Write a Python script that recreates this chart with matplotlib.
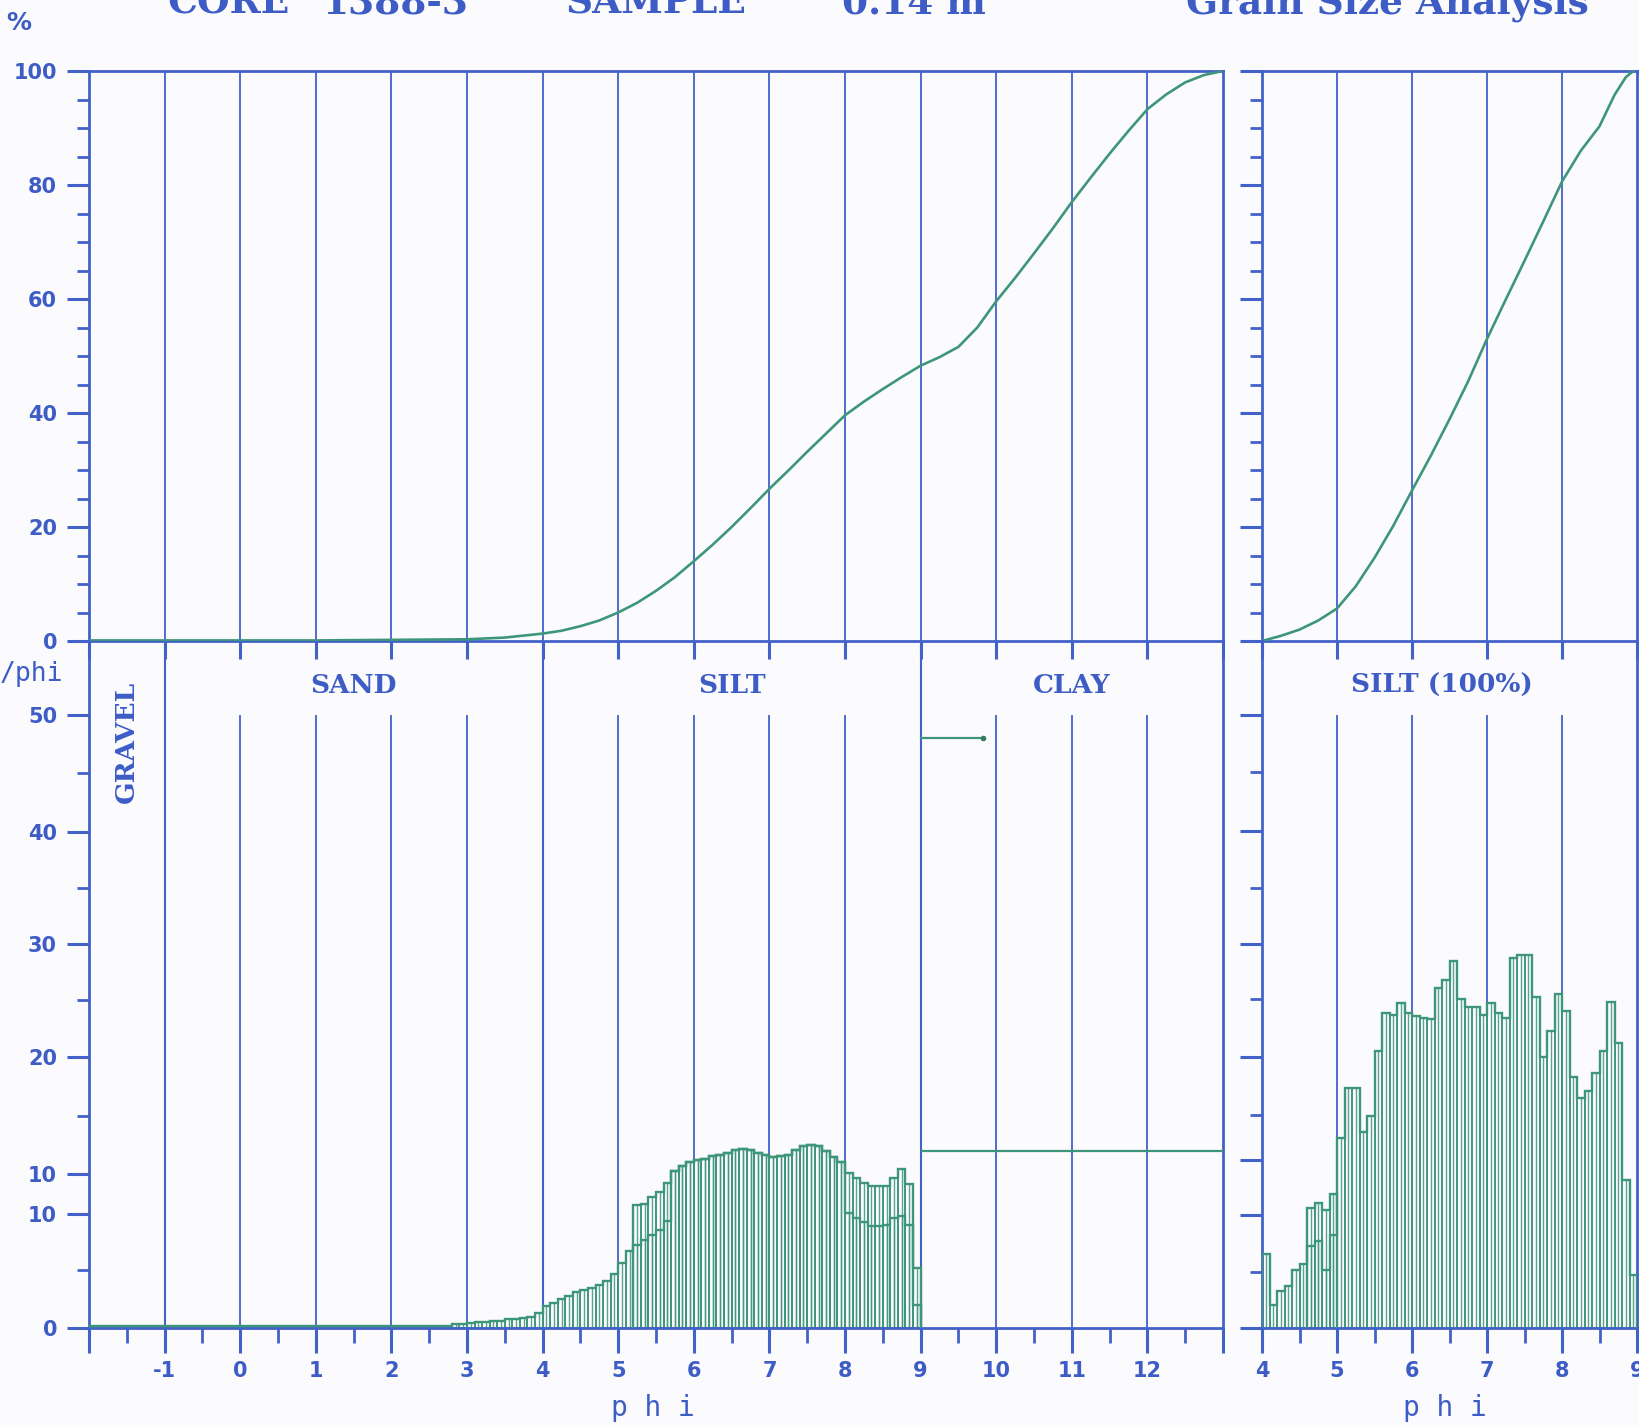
import matplotlib
matplotlib.use('Agg')
import matplotlib.pyplot as plt
import numpy as np
from matplotlib.ticker import FixedLocator, FixedFormatter, MultipleLocator

W, H = 1639, 1427
BLUE = '#4262c9'
GREEN = '#3e967a'
TXT = '#3d5cc6'
BG = '#fbfbfd'

plt.rcParams['font.family'] = ['DejaVu Sans']
plt.rcParams['font.weight'] = 'bold'

# ---------------- data ----------------
# cumulative curve, whole sample (%)
cum_phi = [-2, -1, 0, 1, 2, 3, 3.5, 4, 4.25, 4.5, 4.75, 5, 5.25, 5.5, 5.75, 6, 6.25, 6.5,
           6.75, 7, 7.25, 7.5, 7.75, 8, 8.25, 8.5, 8.75, 9, 9.25, 9.5, 9.75, 10, 10.25,
           10.5, 10.75, 11, 11.25, 11.5, 11.75, 12, 12.25, 12.5, 12.75, 13]
cum_pct = [0.1, 0.1, 0.1, 0.1, 0.2, 0.3, 0.6, 1.3, 1.8, 2.6, 3.6, 5.0, 6.7, 8.8, 11.2, 14.0,
           16.9, 20.0, 23.3, 26.7, 29.9, 33.2, 36.4, 39.6, 42.0, 44.2, 46.3, 48.3, 49.8,
           51.6, 55.0, 59.6, 63.7, 68.0, 72.4, 77.0, 81.3, 85.5, 89.5, 93.3, 95.9, 98.0,
           99.3, 100.0]

# cumulative curve, silt fraction only (%)
silt_cum_phi = [4, 4.25, 4.5, 4.75, 5, 5.25, 5.5, 5.75, 6, 6.25, 6.5, 6.75, 7, 7.25, 7.5,
                7.75, 8, 8.25, 8.5, 8.7, 8.85, 8.95]
silt_cum_pct = [0, 0.9, 2.0, 3.6, 5.7, 9.6, 14.6, 20.2, 26.4, 32.5, 38.9, 45.6, 53.0, 59.9,
                66.7, 73.6, 80.6, 86.0, 90.3, 95.8, 98.9, 100]

# frequency histogram, whole sample (%/phi), 0.1 phi bins from -2.0
hist_start = -2.0
hist_lower = [
    0.2, 0.2, 0.2, 0.2, 0.2, 0.2, 0.2, 0.2, 0.2, 0.2,
    0.2, 0.2, 0.2, 0.2, 0.2, 0.2, 0.2, 0.2, 0.2, 0.2,
    0.2, 0.2, 0.2, 0.2, 0.2, 0.2, 0.2, 0.2, 0.2, 0.2,
    0.2, 0.2, 0.2, 0.2, 0.2, 0.2, 0.2, 0.2, 0.2, 0.2,
    0.2, 0.2, 0.2, 0.2, 0.2, 0.2, 0.2, 0.2, 0.3, 0.3,
    0.4, 0.5, 0.5, 0.6, 0.6, 0.7, 0.7, 0.8, 0.9, 1.2,
    1.8, 2.0, 2.4, 2.6, 2.9, 3.1, 3.3, 3.5, 3.8, 4.4,
    5.3, 6.3, 6.8, 7.2, 7.6, 8.0, 8.7, 12.8, 13.2, 13.5,
    13.7, 13.8, 14.0, 14.1, 14.3, 14.5, 14.6, 14.5, 14.3, 14.1,
    13.9, 14.0, 14.1, 14.5, 14.8, 14.9, 14.8, 14.4, 13.9, 13.5,
    9.4, 9.0, 8.6, 8.3, 8.3, 8.4, 9.0, 9.1, 8.4, 1.9]
# second (overprinted) trace, 0.1 phi bins from 5.2
hist_upper_start = 5.2
hist_upper = [
    10.0, 10.1, 10.7, 11.1, 11.8, 12.8, 13.2, 13.5,
    13.7, 13.8, 14.0, 14.1, 14.3, 14.5, 14.6, 14.5, 14.3, 14.1,
    13.9, 14.0, 14.1, 14.5, 14.8, 14.9, 14.8, 14.4, 13.9, 13.5,
    12.6, 12.2, 11.8, 11.6, 11.6, 11.6, 12.2, 13.0, 11.7, 4.9]

# clay fraction (%/phi)
clay_range = [9.0, 13.0]
clay_pct = 14.4
clay_first_range = [9.0, 9.82]
clay_first_pct = 48.1

# silt-only histogram (%/phi), 0.1 phi bins from 4.0
silt_start = 4.0
silt_hist = [
    6.0, 1.9, 3.0, 3.4, 4.75, 5.2, 6.7, 7.1, 4.7, 7.6,
    15.5, 19.6, 19.6, 16.0, 17.3, 22.6, 25.7, 25.5, 26.5, 25.7,
    25.4, 25.3, 25.2, 27.7, 28.4, 29.9, 26.8, 26.2, 26.2, 25.5,
    26.5, 25.7, 25.3, 30.2, 30.4, 30.4, 27.0, 22.1, 24.2, 27.2,
    25.8, 20.5, 18.75, 19.3, 20.8, 22.6, 26.6, 23.2, 12.1, 4.3]
silt_upper_start = 4.6
silt_upper = [9.8, 10.2, 9.6, 10.9]

# text
title_parts = ['CORE', '1388-3', 'SAMPLE', '0.14 m', 'Grain Size Analysis']
top_yticks = [0, 20, 40, 60, 80, 100]
bl_ytick_labels = ['0', '10', '10', '20', '30', '40', '50']
bl_xtick_labels = ['', '-1', '0', '1', '2', '3', '4', '5', '6', '7', '8', '9', '10', '11', '12', '']
br_xtick_labels = ['4', '5', '6', '7', '8', '9']
section_labels = ['GRAVEL', 'SAND', 'SILT', 'CLAY']

# ---------------- layout / style ----------------
fig = plt.figure(figsize=(W / 100, H / 100), dpi=100, facecolor=BG)


def rect(x0, y0, x1, y1):
    return [x0 / W, 1 - y1 / H, (x1 - x0) / W, (y1 - y0) / H]


BL_TOP = 56.0
bl_ytick_pos = [0, 9.3, 12.53, 22.08, 31.28, 40.47, 50.0]
bl_yminor_pos = [4.7, 17.3, 26.7, 35.9, 45.25]
br_ytick_pos = [0, 9.2, 13.7, 22.1, 31.3, 40.5, 50.0]
br_yminor_pos = [4.6, 17.4, 26.8, 35.9, 45.3]

axTL = fig.add_axes(rect(89, 71, 1223, 641))
axBL = fig.add_axes(rect(89, 641, 1223, 1328))
axTR = fig.add_axes(rect(1262, 71, 1637, 641))
axBR = fig.add_axes(rect(1262, 641, 1637, 1328))

for ax in (axTL, axBL, axTR, axBR):
    ax.set_facecolor('none')
    for sp in ax.spines.values():
        sp.set_color(BLUE)
        sp.set_linewidth(2.0)
    ax.tick_params(which='both', colors=BLUE, labelcolor=TXT, labelsize=15)
    ax.tick_params(which='major', direction='out', length=16, width=2.2)
    ax.tick_params(which='minor', direction='out', length=9, width=2.0)

axBL.spines['top'].set_visible(False)
axBR.spines['top'].set_visible(False)

axTL.set_xlim(-2, 13); axTL.set_ylim(0, 100)
axBL.set_xlim(-2, 13); axBL.set_ylim(0, BL_TOP)
axTR.set_xlim(4, 9); axTR.set_ylim(0, 100)
axBR.set_xlim(4, 9); axBR.set_ylim(0, BL_TOP)

# top panels ticks
for ax, xt in ((axTL, range(-2, 14)), (axTR, range(4, 10))):
    ax.xaxis.set_major_locator(FixedLocator(list(xt)))
    ax.tick_params(axis='x', which='major', length=13, labelbottom=False)
    ax.yaxis.set_major_locator(FixedLocator(top_yticks))
    ax.yaxis.set_minor_locator(MultipleLocator(5))
axTL.tick_params(axis='y', pad=7)
axTR.tick_params(axis='y', labelleft=False)

# bottom-left ticks
axBL.yaxis.set_major_locator(FixedLocator(bl_ytick_pos))
axBL.yaxis.set_major_formatter(FixedFormatter(bl_ytick_labels))
axBL.yaxis.set_minor_locator(FixedLocator(bl_yminor_pos))
axBL.xaxis.set_major_locator(FixedLocator(list(range(-2, 14))))
axBL.xaxis.set_major_formatter(FixedFormatter(bl_xtick_labels))
axBL.xaxis.set_minor_locator(MultipleLocator(0.5))
axBL.tick_params(axis='y', pad=7)
axBL.tick_params(axis='x', which='major', length=18, pad=6, labelsize=15)
axBL.tick_params(axis='x', which='minor', length=11)

# bottom-right ticks
axBR.yaxis.set_major_locator(FixedLocator(br_ytick_pos))
axBR.yaxis.set_minor_locator(FixedLocator(br_yminor_pos))
axBR.tick_params(axis='y', labelleft=False)
axBR.xaxis.set_major_locator(FixedLocator(list(range(4, 10))))
axBR.xaxis.set_major_formatter(FixedFormatter(br_xtick_labels))
axBR.xaxis.set_minor_locator(MultipleLocator(0.5))
axBR.tick_params(axis='x', which='major', length=18, pad=6, labelsize=15)
axBR.tick_params(axis='x', which='minor', length=11)

# vertical guide lines
axTL.vlines(list(range(-1, 13)), 0, 100, color=BLUE, lw=1.3, zorder=1)
axTR.vlines([5, 6, 7, 8], 0, 100, color=BLUE, lw=1.3, zorder=1)
axBL.vlines([-1, 4, 9], 0, BL_TOP, color=BLUE, lw=1.5, zorder=1)
axBL.vlines([0, 1, 2, 3, 5, 6, 7, 8, 10, 11, 12], 0, 50, color=BLUE, lw=1.3, zorder=1)
axBR.vlines([5, 6, 7, 8], 0, 50, color=BLUE, lw=1.3, zorder=1)

# ---------------- marks ----------------
axTL.plot(cum_phi, cum_pct, color=GREEN, lw=1.9, zorder=3)
axTR.plot(silt_cum_phi, silt_cum_pct, color=GREEN, lw=1.9, zorder=3)


def draw_hist(ax, start, vals, width=0.1):
    n = len(vals)
    starts = np.round(start + width * np.arange(n), 3)
    edges = np.append(starts, starts[-1] + width)
    ax.bar(starts, vals, width=width, align='edge', facecolor='none',
           edgecolor=GREEN, linewidth=1.2, zorder=2)
    ax.vlines(starts + width / 2, 0, vals, color=GREEN, lw=1.0, alpha=0.85, zorder=2)
    ax.stairs(vals, edges, color=GREEN, lw=1.7, zorder=3)


draw_hist(axBL, hist_start, hist_lower)
draw_hist(axBL, hist_upper_start, hist_upper)
draw_hist(axBR, silt_start, silt_hist)
draw_hist(axBR, silt_upper_start, silt_upper)

axBL.hlines(clay_pct, clay_range[0], clay_range[1], color=GREEN, lw=1.6, zorder=3)
axBL.plot(clay_first_range, [clay_first_pct, clay_first_pct], color=GREEN, lw=1.6, zorder=3)
axBL.plot([clay_first_range[1]], [clay_first_pct], 'o', color='#2f7a60', ms=3, zorder=4)

# ---------------- text ----------------
serif = dict(family='DejaVu Serif', weight='bold', color=TXT)
axBL.text(-1.5, 47.8, section_labels[0], rotation=90, ha='center', va='center', fontsize=19, **serif)
axBL.text(1.5, 52.4, section_labels[1], ha='center', va='center', fontsize=19, **serif)
axBL.text(6.5, 52.4, section_labels[2], ha='center', va='center', fontsize=19, **serif)
axBL.text(11.0, 52.4, section_labels[3], ha='center', va='center', fontsize=19, **serif)
axBR.text(6.4, 52.4, section_labels[2] + ' (100%)', ha='center', va='center', fontsize=19, **serif)

title_x = [167, 322, 565, 842, 1186]
for xp, s in zip(title_x, title_parts):
    fig.text(xp / W, 1 - 14 / H, s, ha='left', va='baseline', fontsize=27, **serif)

fig.text(19 / W, 1 - 23 / H, '%', ha='center', va='center', fontsize=18,
         weight='bold', color=TXT, family='DejaVu Sans')
fig.text(63 / W, 1 - 674 / H, '/phi', ha='right', va='center', fontsize=19,
         weight='normal', color=TXT, family='DejaVu Sans Mono')
fig.text(653 / W, 1 - 1408 / H, 'p h i', ha='center', va='center', fontsize=20,
         weight='normal', color=TXT, family='DejaVu Sans Mono')
fig.text(1445 / W, 1 - 1408 / H, 'p h i', ha='center', va='center', fontsize=20,
         weight='normal', color=TXT, family='DejaVu Sans Mono')

fig.savefig('out.png', dpi=100, facecolor=BG)
